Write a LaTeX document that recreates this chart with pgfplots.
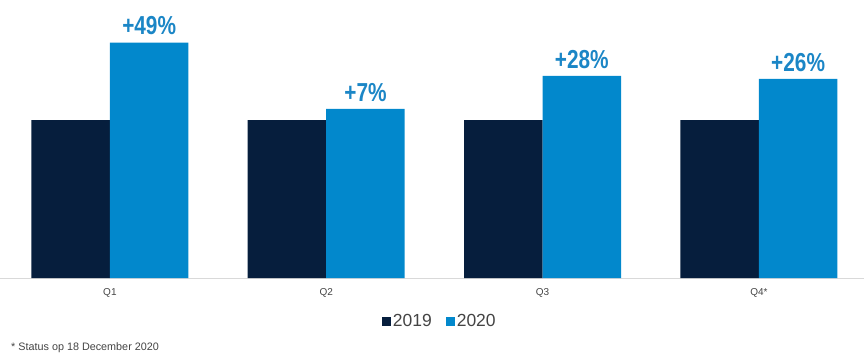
\documentclass[border=0pt]{standalone}
\usepackage{pgfplots}
\pgfplotsset{compat=1.18}
\usepackage{fontspec}
\setmainfont{Liberation Sans}
\newfontfamily\condfont[FakeStretch=0.8]{Liberation Sans}
\definecolor{navy}{HTML}{061E3D}
\definecolor{cblue}{HTML}{0288CC}
\definecolor{lblue}{HTML}{1B86C6}
\definecolor{txtgray}{HTML}{444444}
\definecolor{axgray}{HTML}{D9D9D9}
\begin{document}
\begin{tikzpicture}[x=1pt,y=1pt]
\path[use as bounding box] (0,0) rectangle (864,359);
\begin{axis}[
  at={(0pt,81pt)}, anchor=south west,
  scale only axis, width=864pt, height=278pt,
  ybar=0pt, bar width=78.5pt,
  xmin=-0.508, xmax=3.486, ymin=0, ymax=176,
  axis x line=bottom, axis y line=none,
  x axis line style={axgray, line width=1pt, -},
  xtick=data, xticklabels={Q1,Q2,Q3,Q4*},
  xtick style={draw=none},
  ytick=\empty,
  x tick label style={font=\fontsize{10}{12}\selectfont, text=txtgray, yshift=-5pt},
  legend columns=2,
  legend style={draw=none, fill=none, at={(0.509,-0.155)}, anchor=center,
    font=\fontsize{17.5}{19}\selectfont, text=txtgray,
    /tikz/every even column/.append style={column sep=12pt}},
  legend image code/.code={\fill[#1,draw=none] (0pt,-5pt) rectangle (9pt,4pt);},
  clip=false,
]
\addplot[fill=navy, draw=none] coordinates {(0,100) (1,100) (2,100) (3,100)};
\addlegendentry{2019}
\addplot[fill=cblue, draw=none,
  point meta=explicit symbolic,
  nodes near coords={\condfont\bfseries\pgfplotspointmeta},
  every node near coord/.append style={font=\fontsize{26}{28}\selectfont, text=lblue, anchor=south, yshift=4pt}]
  coordinates {(0,149) [{+49\%}] (1,107) [{+7\%}] (2,128) [{+28\%}] (3,126) [{+26\%}]};
\addlegendentry{2020}
\end{axis}
\node[anchor=west, font=\fontsize{10.8}{12}\selectfont, text=txtgray, inner sep=0pt] at (11,11) {* Status op 18 December 2020};
\end{tikzpicture}
\end{document}
